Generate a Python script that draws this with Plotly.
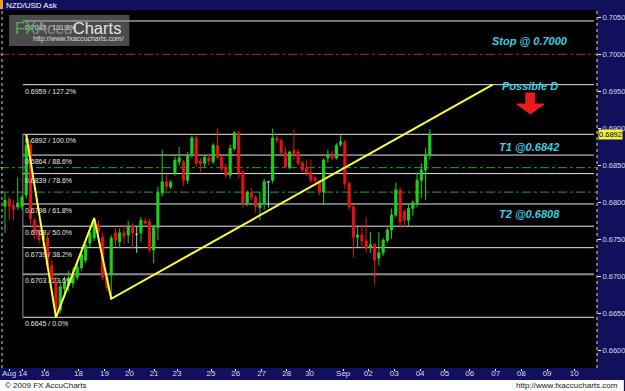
import plotly.graph_objects as go

# ---------------- data ----------------
candle_open = [0.6795, 0.6804, 0.6796, 0.6794, 0.6795, 0.6810, 0.6878, 0.6776, 0.6759, 0.6750,
               0.6752, 0.6715, 0.6691, 0.6655, 0.6684, 0.6688, 0.6691, 0.6699, 0.6712, 0.6722,
               0.6745, 0.6752, 0.6770, 0.6753, 0.6699, 0.6702, 0.6759, 0.6747, 0.6759, 0.6756,
               0.6768, 0.6757, 0.6759, 0.6775, 0.6774, 0.6736, 0.6766, 0.6813, 0.6828, 0.6821,
               0.6840, 0.6855, 0.6855, 0.6830, 0.6864, 0.6887, 0.6856, 0.6853, 0.6860, 0.6855,
               0.6877, 0.6861, 0.6848, 0.6837, 0.6873, 0.6894, 0.6841, 0.6800, 0.6813, 0.6807,
               0.6793, 0.6799, 0.6828, 0.6830, 0.6887, 0.6884, 0.6867, 0.6848, 0.6870, 0.6868,
               0.6853, 0.6846, 0.6841, 0.6833, 0.6828, 0.6814, 0.6860, 0.6866, 0.6860, 0.6878,
               0.6882, 0.6826, 0.6794, 0.6753, 0.6756, 0.6748, 0.6739, 0.6743, 0.6725, 0.6732,
               0.6749, 0.6763, 0.6783, 0.6817, 0.6788, 0.6776, 0.6792, 0.6800, 0.6830, 0.6844,
               0.6864]
candle_high = [0.6813, 0.6808, 0.6803, 0.6834, 0.6810, 0.6892, 0.6884, 0.6780, 0.6770, 0.6762,
               0.6760, 0.6722, 0.6700, 0.6695, 0.6700, 0.6708, 0.6712, 0.6720, 0.6738, 0.6748,
               0.6765, 0.6779, 0.6776, 0.6760, 0.6705, 0.6756, 0.6766, 0.6765, 0.6770, 0.6775,
               0.6772, 0.6767, 0.6780, 0.6779, 0.6778, 0.6770, 0.6821, 0.6871, 0.6838, 0.6830,
               0.6862, 0.6875, 0.6858, 0.6868, 0.6890, 0.6890, 0.6860, 0.6864, 0.6866, 0.6880,
               0.6900, 0.6866, 0.6852, 0.6878, 0.6896, 0.6897, 0.6844, 0.6816, 0.6820, 0.6810,
               0.6814, 0.6832, 0.6829, 0.6900, 0.6890, 0.6886, 0.6875, 0.6870, 0.6898, 0.6872,
               0.6856, 0.6858, 0.6858, 0.6835, 0.6830, 0.6860, 0.6871, 0.6870, 0.6880, 0.6891,
               0.6884, 0.6828, 0.6797, 0.6767, 0.6770, 0.6780, 0.6760, 0.6745, 0.6760, 0.6752,
               0.6766, 0.6792, 0.6827, 0.6820, 0.6790, 0.6798, 0.6803, 0.6840, 0.6853, 0.6874,
               0.6899]
candle_low = [0.6759, 0.6776, 0.6776, 0.6790, 0.6790, 0.6805, 0.6770, 0.6750, 0.6745, 0.6738,
              0.6710, 0.6690, 0.6645, 0.6650, 0.6672, 0.6680, 0.6685, 0.6695, 0.6708, 0.6718,
              0.6740, 0.6748, 0.6755, 0.6695, 0.6680, 0.6670, 0.6740, 0.6738, 0.6744, 0.6745,
              0.6738, 0.6732, 0.6747, 0.6770, 0.6732, 0.6718, 0.6749, 0.6808, 0.6815, 0.6818,
              0.6836, 0.6850, 0.6822, 0.6825, 0.6860, 0.6848, 0.6841, 0.6848, 0.6850, 0.6852,
              0.6858, 0.6842, 0.6834, 0.6832, 0.6870, 0.6832, 0.6793, 0.6795, 0.6803, 0.6786,
              0.6776, 0.6790, 0.6793, 0.6826, 0.6880, 0.6866, 0.6846, 0.6845, 0.6857, 0.6850,
              0.6841, 0.6836, 0.6826, 0.6826, 0.6810, 0.6797, 0.6854, 0.6857, 0.6858, 0.6875,
              0.6818, 0.6790, 0.6726, 0.6740, 0.6739, 0.6732, 0.6732, 0.6689, 0.6715, 0.6728,
              0.6746, 0.6751, 0.6780, 0.6765, 0.6766, 0.6768, 0.6782, 0.6793, 0.6806, 0.6803,
              0.6858]
candle_close = [0.6803, 0.6795, 0.6791, 0.6799, 0.6807, 0.6877, 0.6778, 0.6759, 0.6750, 0.6755,
                0.6715, 0.6695, 0.6655, 0.6686, 0.6692, 0.6698, 0.6702, 0.6713, 0.6730, 0.6742,
                0.6759, 0.6772, 0.6761, 0.6699, 0.6685, 0.6752, 0.6749, 0.6759, 0.6754, 0.6767,
                0.6759, 0.6757, 0.6776, 0.6772, 0.6736, 0.6766, 0.6813, 0.6828, 0.6822, 0.6827,
                0.6857, 0.6860, 0.6830, 0.6864, 0.6887, 0.6853, 0.6853, 0.6861, 0.6856, 0.6877,
                0.6861, 0.6846, 0.6837, 0.6873, 0.6894, 0.6840, 0.6800, 0.6814, 0.6807, 0.6794,
                0.6799, 0.6828, 0.6828, 0.6887, 0.6884, 0.6867, 0.6848, 0.6868, 0.6866, 0.6853,
                0.6844, 0.6840, 0.6830, 0.6830, 0.6814, 0.6857, 0.6864, 0.6860, 0.6877, 0.6882,
                0.6826, 0.6794, 0.6753, 0.6756, 0.6748, 0.6739, 0.6743, 0.6722, 0.6732, 0.6749,
                0.6763, 0.6783, 0.6817, 0.6774, 0.6776, 0.6792, 0.6800, 0.6830, 0.6844, 0.6864,
                0.6892]

x_tick_text = ["Aug", "14", "16", "18", "19", "20", "21", "23", "25", "26", "27", "28", "30",
               "Sep", "02", "03", "04", "05", "06", "07", "08", "09", "10"]
x_tick_pos = [0.95, 4.2, 9.4, 17.3, 23.4, 29.3, 35.1, 40.5, 48.5, 54.3, 60.4, 66.3, 71.7,
              79.6, 85.5, 91.6, 97.7, 103.5, 109.4, 115.5, 121.5, 127.6, 134.0]

y_tick_vals = [0.6600, 0.6650, 0.6700, 0.6750, 0.6800, 0.6850, 0.6900, 0.6950, 0.7000, 0.7050]

fib_ratios = [0.0, 23.6, 38.2, 50.0, 61.8, 78.6, 88.6, 100.0, 127.2, 161.8]
fib_prices = [0.6645, 0.6703, 0.6739, 0.6768, 0.6798, 0.6839, 0.6864, 0.6892, 0.6959, 0.7045]

pattern_idx = [5, 12, 21, 25, 114.8]
pattern_price = [0.6892, 0.6645, 0.6779, 0.6670, 0.6959]

stop_price = 0.7000
target_lines = [0.6847, 0.6814]
last_price = 0.6892

note_texts = ["Stop @ 0.7000", "Possible D", "T1 @0.6842", "T2 @0.6808"]

# ---------------- geometry helpers (pixel -> paper) ----------------
W, H = 625, 391
PL, PR, PT, PB = 0, 600, 10, 368


def px(xp):
    return (xp - PL) / (PR - PL)


def py(yp):
    return (PB - yp) / (PB - PT)


GREEN = "#1ed21e"
RED = "#e41414"
CYAN_D = "#7fdada"
NAVY = "#10105c"
FONT = "Liberation Sans"

idx = list(range(len(candle_open)))
groups = {
    "up": [i for i in idx if candle_close[i] > candle_open[i]],
    "down": [i for i in idx if candle_close[i] < candle_open[i]],
    "doji": [i for i in idx if candle_close[i] == candle_open[i]],
}
colors = {"up": GREEN, "down": RED, "doji": CYAN_D}

fig = go.Figure()
for name, ids in groups.items():
    c = colors[name]
    fig.add_trace(go.Candlestick(
        x=ids,
        open=[candle_open[i] for i in ids],
        high=[candle_high[i] for i in ids],
        low=[candle_low[i] for i in ids],
        close=[candle_close[i] for i in ids],
        increasing=dict(line=dict(color=c, width=1), fillcolor=c),
        decreasing=dict(line=dict(color=c, width=1), fillcolor=c),
        whiskerwidth=0,
        showlegend=False, hoverinfo="skip",
    ))

fig.add_trace(go.Scatter(x=pattern_idx, y=pattern_price, mode="lines",
                         line=dict(color="#ffff3c", width=2),
                         showlegend=False, hoverinfo="skip"))

shapes = []
# fib lines
for r, p in zip(fib_ratios, fib_prices):
    col = "#8c8c8c" if r == 23.6 else "#e6e6e6"
    wid = 2 if r == 23.6 else 1
    shapes.append(dict(type="line", xref="paper", yref="y", x0=px(23), x1=px(597),
                       y0=p, y1=p, line=dict(color=col, width=wid), layer="below"))
# fib tool left edge
shapes.append(dict(type="line", xref="paper", yref="y", x0=px(23), x1=px(23),
                   y0=fib_prices[0], y1=fib_prices[7], line=dict(color="#8c8c8c", width=1),
                   layer="below"))
# target dash-dot lines
for p in target_lines:
    shapes.append(dict(type="line", xref="paper", yref="y", x0=0, x1=px(599),
                       y0=p, y1=p, line=dict(color="#22a822", width=1, dash="dashdot"),
                       layer="below"))
# stop line
shapes.append(dict(type="line", xref="paper", yref="y", x0=0, x1=px(599),
                   y0=stop_price, y1=stop_price,
                   line=dict(color="#c42020", width=1, dash="dashdot"), layer="below"))
# left & right dotted axis lines
shapes.append(dict(type="line", xref="paper", yref="paper", x0=px(2), x1=px(2), y0=0, y1=1,
                   line=dict(color="#d0d0d0", width=1, dash="dot")))
shapes.append(dict(type="line", xref="paper", yref="paper", x0=px(600), x1=px(600), y0=0, y1=1,
                   line=dict(color="#e0e0a0", width=1, dash="dot")))
# watermark box
shapes.append(dict(type="rect", xref="paper", yref="paper", x0=px(9), x1=px(130),
                   y0=py(46), y1=py(15), fillcolor="rgba(150,150,150,0.5)", line=dict(width=0)))
# red down arrow
ax0, ax1, hx0, hx1, ay0, ay1, ay2 = 528.5, 537.5, 519, 547, 93, 104, 114
path = (f"M {px(ax0)},{py(ay0)} L {px(ax1)},{py(ay0)} L {px(ax1)},{py(ay1)} "
        f"L {px(hx1)},{py(ay1)} L {px((hx0 + hx1) / 2)},{py(ay2)} L {px(hx0)},{py(ay1)} "
        f"L {px(ax0)},{py(ay1)} Z")
shapes.append(dict(type="path", xref="paper", yref="paper", path=path,
                   fillcolor="#e81c1c", line=dict(color="#e81c1c", width=1)))
# title bar marker
shapes.append(dict(type="rect", xref="paper", yref="paper", x0=px(0), x1=px(3),
                   y0=py(9), y1=py(0), fillcolor="#f0a020", line=dict(width=0)))
# bottom white strip
shapes.append(dict(type="rect", xref="paper", yref="paper", x0=px(-2), x1=px(627),
                   y0=py(392), y1=py(380), fillcolor="white", line=dict(width=0)))

annotations = []
for r, p in zip(fib_ratios, fib_prices):
    annotations.append(dict(xref="paper", yref="y", x=px(23), y=p, xanchor="left",
                            yanchor="top", yshift=-1, showarrow=False,
                            text=f"{p:.4f} / {r:.1f}%",
                            font=dict(family=FONT, size=7, color="#e8e8e8")))

note_pos = [(533, 41), (533, 86), (532, 147), (532, 214)]
for t, (nx, ny) in zip(note_texts, note_pos):
    annotations.append(dict(xref="paper", yref="paper", x=px(nx), y=py(ny),
                            xanchor="center", yanchor="middle", showarrow=False,
                            text=f"<b><i>{t}</i></b>",
                            font=dict(family=FONT, size=11, color="#3ccfe0")))

# watermark text
annotations.append(dict(xref="paper", yref="paper", x=px(68), y=py(28), xanchor="center",
                        yanchor="middle", showarrow=False,
                        text=("<span style='color:#56a856'>FX</span>"
                              "<span style='color:#8a8a8a'>Accu</span>"
                              "<span style='color:#e4e4e4'>Charts</span>"),
                        font=dict(family=FONT, size=16.5)))
annotations.append(dict(xref="paper", yref="paper", x=px(79), y=py(39.5), xanchor="center",
                        yanchor="middle", showarrow=False, text="http://www.fxaccucharts.com/",
                        font=dict(family=FONT, size=7, color="#dcdcdc")))
# title
annotations.append(dict(xref="paper", yref="paper", x=px(4), y=py(5), xanchor="left",
                        yanchor="middle", showarrow=False, text="NZD/USD Ask",
                        font=dict(family=FONT, size=8, color="white")))
# current price box
annotations.append(dict(xref="paper", yref="y", x=px(601), y=last_price, xanchor="left",
                        yanchor="middle", showarrow=False, text=f"{last_price:.4f}",
                        bgcolor="#f2f23c", borderpad=0,
                        font=dict(family=FONT, size=7.5, color="black")))
# footer
annotations.append(dict(xref="paper", yref="paper", x=px(3), y=py(385.5), xanchor="left",
                        yanchor="middle", showarrow=False, text="© 2009 FX AccuCharts",
                        font=dict(family=FONT, size=8, color="#202020")))
annotations.append(dict(xref="paper", yref="paper", x=px(623), y=py(385.5), xanchor="right",
                        yanchor="middle", showarrow=False, text="http://www.fxaccucharts.com",
                        font=dict(family=FONT, size=8, color="#202020")))

fig.update_layout(
    width=W, height=H, autosize=False,
    margin=dict(l=PL, r=W - PR, t=PT, b=H - PB, pad=0),
    paper_bgcolor=NAVY, plot_bgcolor="black",
    showlegend=False, hovermode=False,
    shapes=shapes, annotations=annotations,
    xaxis=dict(range=[-1.17, 139.34], showgrid=False, zeroline=False, showline=False,
               tickmode="array", tickvals=x_tick_pos, ticktext=x_tick_text, tickangle=0,
               ticks="outside", ticklen=2, tickcolor="white", ticklabelstandoff=-5,
               tickfont=dict(family=FONT, size=8, color="#d8d8e8"),
               rangeslider=dict(visible=False), fixedrange=True),
    yaxis=dict(range=[0.65766, 0.70598], side="right", showgrid=False, zeroline=False,
               showline=False, tickmode="array", tickvals=y_tick_vals,
               ticktext=[f"{v:.4f}" for v in y_tick_vals],
               ticks="outside", ticklen=3, tickcolor="white",
               tickfont=dict(family=FONT, size=7.5, color="#d8d8e8"), fixedrange=True),
)

fig.write_html("out.html")
